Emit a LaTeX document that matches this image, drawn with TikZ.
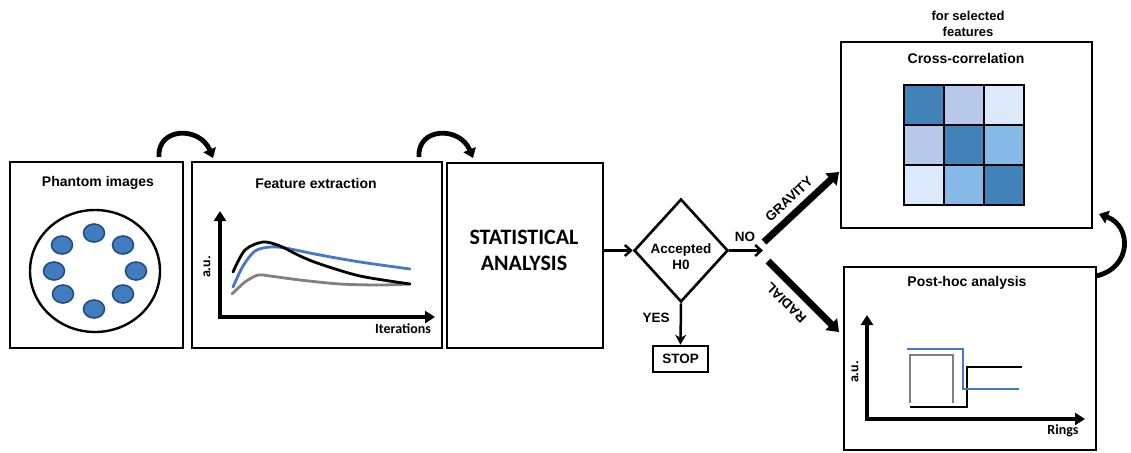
\documentclass[tikz,border=0pt]{standalone}
\usepackage{fontspec}
\setmainfont{Liberation Sans}
\newfontfamily\calib{Carlito}
\usetikzlibrary{arrows.meta,shapes.geometric}
\definecolor{cdark}{RGB}{65,131,185}
\definecolor{clav}{RGB}{183,200,234}
\definecolor{cvlight}{RGB}{220,233,250}
\definecolor{cmed}{RGB}{135,185,232}
\definecolor{cdot}{RGB}{65,125,190}
\definecolor{cdotb}{RGB}{35,75,130}
\definecolor{cblue}{RGB}{70,120,200}
\definecolor{cgray}{RGB}{128,128,128}
\begin{document}
\begin{tikzpicture}[x=1pt,y=-1pt,
  box/.style={draw, line width=2.6pt, inner sep=0pt},
  ttl/.style={font=\bfseries\fontsize{14}{16}\selectfont, inner sep=0pt, align=center},
  lbl/.style={font=\bfseries\fontsize{13.5}{16}\selectfont, inner sep=0pt, align=center},
  axlbl/.style={font=\calib\bfseries\fontsize{14}{15}\selectfont, inner sep=0pt},
  cell/.style={draw, line width=2.8pt, minimum size=40pt, inner sep=0pt},
  dot/.style={draw=cdotb, fill=cdot, line width=1.6pt},
  thinarr/.style={line width=2.5pt, -{Straight Barb[length=6pt,width=11pt]}},
  fatarr/.style={line width=7pt, -{Triangle[length=11pt,width=16pt]}},
  curv/.style={line width=4.8pt, -{Triangle[length=9pt,width=13pt]}},
  axis/.style={line width=3.8pt, {Triangle[length=10pt,width=12pt]}-{Triangle[length=10pt,width=12pt]}},
  crv/.style={line width=2.8pt, line cap=round},
  diaglbl/.style={font=\bfseries\fontsize{13.5}{14}\selectfont, inner sep=0pt}
]
\useasboundingbox (0,0) rectangle (1131,452);

% ---- boxes
\node[box, minimum width=173pt, minimum height=186pt] (phantom) at (96.5,255) {};
\node[box, minimum width=250pt, minimum height=186pt] (feature) at (317,255) {};
\node[box, minimum width=156pt, minimum height=185pt] (stats) at (525,255.5) {};
\node[box, minimum width=251pt, minimum height=186pt] (cross) at (966.5,135) {};
\node[box, minimum width=252pt, minimum height=183pt] (posthoc) at (970,358.5) {};
\node[draw, diamond, line width=2.6pt, minimum width=94pt, minimum height=103pt, inner sep=0pt] (dia) at (681,250.5) {};
\node[box, minimum width=55pt, minimum height=26pt] (stop) at (680.5,359) {};

% ---- texts
\node[ttl] (tphantom) at (98,183) {Phantom images};
\node[ttl] (tfeature) at (316,183) {Feature extraction};
\node[font=\calib\bfseries\fontsize{22}{26}\selectfont, inner sep=0pt, align=center] (tstats) at (524,250) {STATISTICAL\\ANALYSIS};
\node[lbl] (tdia) at (681,257) {Accepted\\H0};
\node[lbl] (tstop) at (680.5,359) {STOP};
\node[ttl] (tcross) at (966,58) {Cross-correlation};
\node[ttl] (tpost) at (967,283) {Post-hoc analysis};
\node[lbl, font=\bfseries\fontsize{13}{16}\selectfont] (tsel) at (968,24) {for selected\\features};
\node[lbl] (tno) at (745,237) {NO};
\node[lbl] (tyes) at (656,318) {YES};

% ---- phantom drawing
\draw[line width=2.4pt] (95,271) ellipse [x radius=65, y radius=61];
\foreach \px/\py in {94/233, 62/245, 123/245, 54/271, 136/271, 63/294, 123/294, 94/309}
  \draw[dot] (\px,\py) ellipse [x radius=10.5, y radius=9];

% ---- feature extraction plot
\coordinate (fy) at (220,211);
\coordinate (fx) at (435,317);
\draw[axis] (fy) |- (fx);
\node[axlbl, rotate=90] (fau) at (207,267) {a.u.};
\node[axlbl] (fit) at (403,329) {Iterations};
\draw[crv, cgray] plot[smooth] coordinates {(232,294) (245,282) (258,275) (270,276) (300,280) (340,284) (380,285) (410,284)};
\draw[crv, cblue] plot[smooth] coordinates {(233,287) (243,266) (255,251) (270,247) (285,248) (320,255) (360,262) (410,269)};
\draw[crv, black] plot[smooth] coordinates {(233,272) (245,250) (263,242) (280,246) (300,256) (320,264) (360,276) (410,284)};

% ---- cross-correlation grid
\node[cell, fill=cdark]   (g11) at (924,105) {};
\node[cell, fill=clav]    (g12) at (964,105) {};
\node[cell, fill=cvlight] (g13) at (1004,105) {};
\node[cell, fill=clav]    (g21) at (924,145) {};
\node[cell, fill=cdark]   (g22) at (964,145) {};
\node[cell, fill=cmed]    (g23) at (1004,145) {};
\node[cell, fill=cvlight] (g31) at (924,185) {};
\node[cell, fill=cmed]    (g32) at (964,185) {};
\node[cell, fill=cdark]   (g33) at (1004,185) {};

% ---- post-hoc plot
\coordinate (py) at (867,315);
\coordinate (px) at (1085,419);
\draw[axis] (py) |- (px);
\node[axlbl, rotate=90] (pau) at (855,372) {a.u.};
\node[axlbl] (prings) at (1063,431) {Rings};
\draw[line width=2.5pt, cgray] (910,403) -- (910,355) -- (953,355) -- (953,403);
\draw[line width=2.5pt, black] (910,407) -- (967,407) -- (967,367) -- (1022,367);
\draw[line width=2.5pt, cblue] (907,349) -- (963,349) -- (963,389) -- (1019,389);

% ---- connectors
\draw[thinarr] (stats.east |- dia.west) -- (dia.west);
\coordinate (nohead) at (763,250.5);
\draw[thinarr] (dia.east) -- (nohead);
\draw[line width=2.5pt, -{Stealth[length=10pt,width=11pt]}] (dia.south) -- (stop.north);

\coordinate (gs) at (764,242);
\coordinate (ge) at (839,172);
\draw[fatarr] (gs) -- (ge);
\node[diaglbl, rotate=43] (tgrav) at (789,199) {GRAVITY};
\coordinate (rs) at (768,261);
\coordinate (re) at (839,332);
\draw[fatarr] (rs) -- (re);
\node[diaglbl, rotate=135] (trad) at (786,303) {RADIAL};

% ---- curved arrows
\coordinate (a1s) at (159,157);
\coordinate (a1e) at (213,158);
\draw[curv] (a1s) .. controls (157,127) and (200,126) .. (a1e);
\coordinate (a2s) at (419,157);
\coordinate (a2e) at (473,158);
\draw[curv] (a2s) .. controls (417,127) and (460,126) .. (a2e);
\coordinate (a3s) at (1096,276);
\coordinate (a3e) at (1099,214);
\draw[curv] (a3s) .. controls (1132,268) and (1132,226) .. (a3e);
\end{tikzpicture}
\end{document}
